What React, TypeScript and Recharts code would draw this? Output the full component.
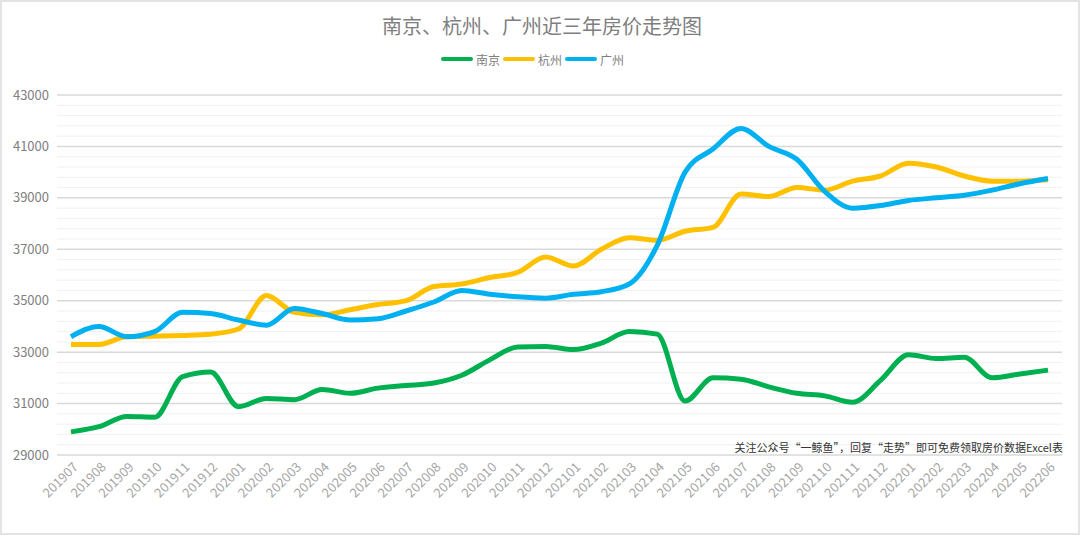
import { LineChart, Line, XAxis, YAxis, CartesianGrid, ReferenceLine, Legend } from 'recharts'

const months = [
  '201907', '201908', '201909', '201910', '201911', '201912',
  '202001', '202002', '202003', '202004', '202005', '202006',
  '202007', '202008', '202009', '202010', '202011', '202012',
  '202101', '202102', '202103', '202104', '202105', '202106',
  '202107', '202108', '202109', '202110', '202111', '202112',
  '202201', '202202', '202203', '202204', '202205', '202206',
]

const nanjing = [
  29900, 30100, 30500, 30470, 32050, 32230,
  30880, 31200, 31150, 31550, 31400, 31600,
  31700, 31800, 32100, 32700, 33200, 33220,
  33100, 33350, 33800, 33700, 31100, 32000,
  31950, 31650, 31400, 31300, 31050, 31900,
  32900, 32750, 32800, 32000, 32150, 32300,
]

const hangzhou = [
  33300, 33300, 33600, 33620, 33650, 33700,
  33900, 35200, 34550, 34450, 34650, 34850,
  35000, 35550, 35650, 35900, 36100, 36700,
  36350, 37000, 37450, 37350, 37700, 37850,
  39150, 39050, 39400, 39300, 39650, 39850,
  40350, 40200, 39850, 39650, 39650, 39700,
]

const guangzhou = [
  33600, 34000, 33600, 33800, 34550, 34500,
  34250, 34050, 34700, 34500, 34250, 34300,
  34600, 34950, 35400, 35250, 35150, 35100,
  35250, 35350, 35650, 37150, 40000, 40900,
  41700, 41000, 40500, 39250, 38600, 38700,
  38900, 39000, 39100, 39300, 39550, 39750,
]

const yTicks = [29000, 31000, 33000, 35000, 37000, 39000, 41000, 43000]
const minorLines = [
  29400, 29800, 30200, 30600, 31400, 31800, 32200, 32600,
  33400, 33800, 34200, 34600, 35400, 35800, 36200, 36600,
  37400, 37800, 38200, 38600, 39400, 39800, 40200, 40600,
  41400, 41800, 42200, 42600,
]

const seriesInfo = [
  { key: 'nanjing', name: '南京', color: '#00b050' },
  { key: 'hangzhou', name: '杭州', color: '#ffc000' },
  { key: 'guangzhou', name: '广州', color: '#00b0f0' },
]

const data = months.map((m, i) => ({
  month: m,
  nanjing: nanjing[i],
  hangzhou: hangzhou[i],
  guangzhou: guangzhou[i],
}))

const FONT = '"Noto Sans CJK SC", "Noto Sans", sans-serif'

// rotated month label, end of text sits just under the tick
function MonthTick(props: any) {
  const { x, y, payload } = props
  return (
    <g transform={`translate(${x + 5},${y + 2})`}>
      <text x={0} y={0} dy={4} textAnchor="end" transform="rotate(-45)" fontSize={13} fill="#a6a6a6" fontFamily={FONT}>
        {payload.value}
      </text>
    </g>
  )
}

function LegendRow() {
  return (
    <div style={{ display: 'flex', justifyContent: 'center', alignItems: 'center', height: 20, fontFamily: FONT, fontSize: 12, color: '#808080' }}>
      {seriesInfo.map(s => (
        <span key={s.key} style={{ display: 'flex', alignItems: 'center', marginLeft: 3 }}>
          <span style={{ display: 'inline-block', width: 32, height: 4, borderRadius: 2, background: s.color, marginRight: 3 }} />
          <span>{s.name}</span>
        </span>
      ))}
    </div>
  )
}

export default function App() {
  return (
    <div style={{ position: 'relative', width: 1080, height: 535, background: '#fff', boxSizing: 'border-box', border: '2px solid #e3e3e3', overflow: 'hidden' }}>
      <style>{'body{margin:0}'}</style>
      <div style={{ position: 'absolute', top: 9, left: 0, width: 1080, textAlign: 'center', fontFamily: FONT, fontSize: 20, color: '#7f7f7f' }}>
        南京、杭州、广州近三年房价走势图
      </div>
      <div style={{ position: 'absolute', top: -2, left: -2 }}>
        <LineChart width={1080} height={535} data={data} margin={{ top: 75, right: 18, bottom: 0, left: 0 }}>
          {minorLines.map(v => (
            <ReferenceLine key={v} y={v} stroke="#f0f0f0" strokeWidth={1} />
          ))}
          <CartesianGrid vertical={false} stroke="#d9d9d9" strokeWidth={1.5} />
          <XAxis
            dataKey="month"
            interval={0}
            padding={{ left: 14, right: 14 }}
            axisLine={false}
            tickLine={false}
            tick={<MonthTick />}
            height={80}
          />
          <YAxis
            domain={[29000, 43000]}
            ticks={yTicks}
            width={57}
            axisLine={false}
            tickLine={false}
            tick={{ fontSize: 13, fill: '#808080', fontFamily: FONT }}
          />
          <Legend verticalAlign="top" wrapperStyle={{ top: 49 }} content={<LegendRow />} />
          {seriesInfo.map(s => (
            <Line
              key={s.key}
              type="monotone"
              dataKey={s.key}
              name={s.name}
              stroke={s.color}
              strokeWidth={5}
              dot={false}
              isAnimationActive={false}
            />
          ))}
        </LineChart>
      </div>
      <div style={{ position: 'absolute', top: 437, right: 15, fontFamily: FONT, fontSize: 11, color: '#333' }}>
        关注公众号“一鲸鱼”，回复“走势”即可免费领取房价数据Excel表
      </div>
    </div>
  )
}
